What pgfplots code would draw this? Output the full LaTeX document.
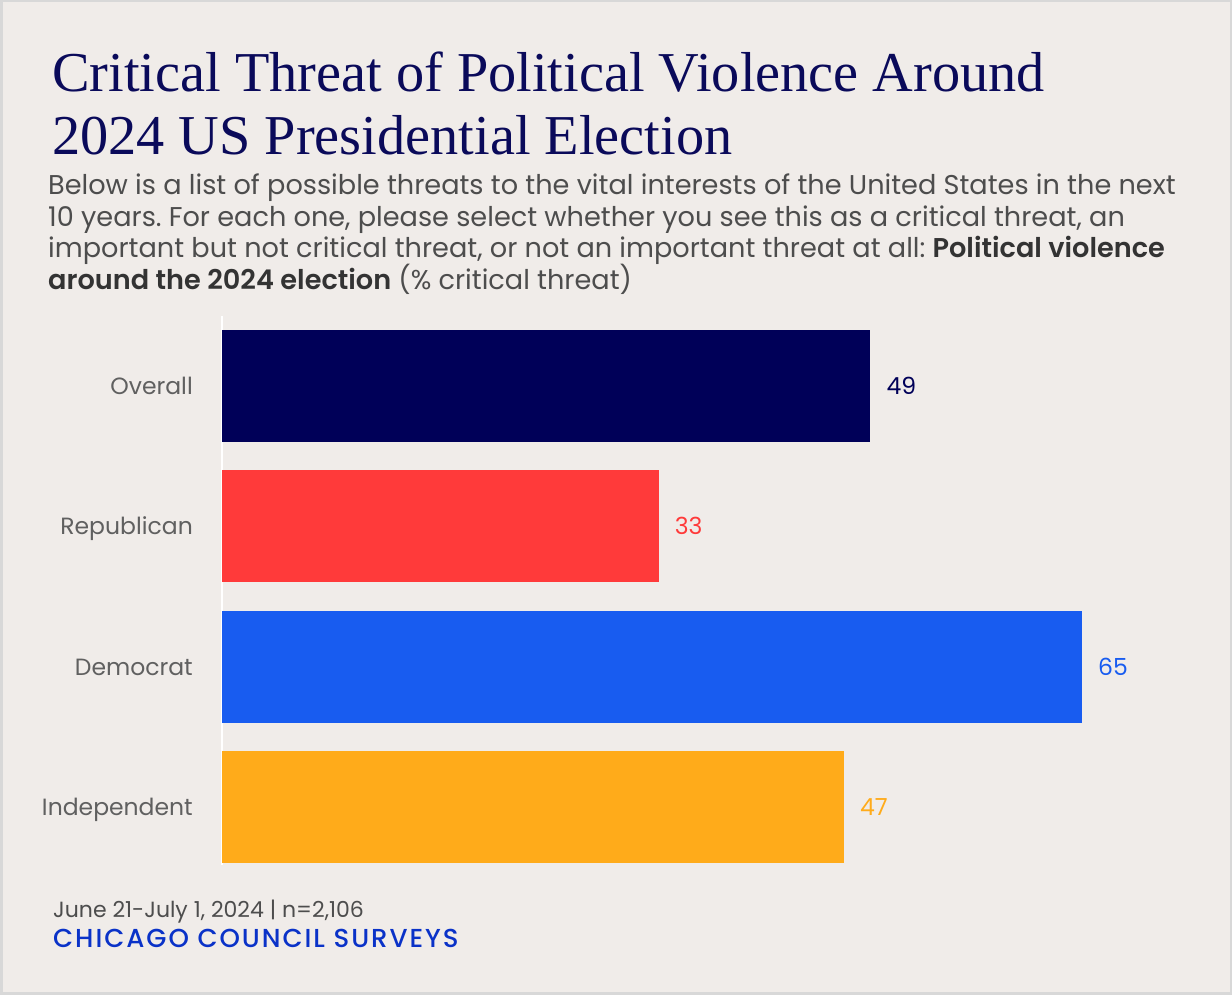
\documentclass[border=0pt]{standalone}
\usepackage{pgfplots}
\pgfplotsset{compat=1.18}
\usepackage{fontspec}
\newfontfamily\titlefont{Liberation Serif}
\newfontfamily\sansf[BoldFont={* SemiBold}]{Poppins}
\newfontfamily\footf[UprightFont={* Medium}, LetterSpace=7.5]{Poppins}
\definecolor{bg}{HTML}{F0ECE9}
\definecolor{frame}{HTML}{D8D8D8}
\definecolor{cnavy}{HTML}{000058}
\definecolor{cred}{HTML}{FF3A3A}
\definecolor{cblue}{HTML}{185CF0}
\definecolor{corange}{HTML}{FFAB1A}
\definecolor{ctitle}{HTML}{0A0A5A}
\definecolor{csub}{HTML}{4D4D4D}
\definecolor{cbold}{HTML}{333333}
\definecolor{clab}{HTML}{606060}
\definecolor{cfoot}{HTML}{0A32C8}
\frenchspacing
\begin{document}
\begin{tikzpicture}[x=1pt,y=1pt]
\useasboundingbox (0,0) rectangle (1232,995);
\fill[bg] (0,0) rectangle (1232,995);
\draw[frame, line width=2.5pt] (1.25,1.25) rectangle (1230.75,993.75);
% title
\node[anchor=base west, inner sep=0pt, text=ctitle, font=\titlefont\fontsize{56.3}{64}\selectfont] at (52,{995-92}) {Critical Threat of Political Violence Around};
\node[anchor=base west, inner sep=0pt, text=ctitle, font=\titlefont\fontsize{56.3}{64}\selectfont] at (52,{995-155}) {2024 US Presidential Election};
% subtitle
\begin{scope}[every node/.style={anchor=base west, inner sep=0pt, text=csub, font=\sansf\fontsize{27.15}{30}\selectfont}]
\node at (48,{995-195}) {Below is a list of possible threats to the vital interests of the United States in the next};
\node at (48,{995-227}) {10 years. For each one, please select whether you see this as a critical threat, an};
\node at (48,{995-258}) {important but not critical threat, or not an important threat at all: \textcolor{cbold}{\bfseries Political violence}};
\node at (48,{995-290}) {\textcolor{cbold}{\bfseries around the 2024 election} (\% critical threat)};
\end{scope}
% footer
\node[anchor=base west, inner sep=0pt, text=csub, font=\sansf\fontsize{22}{24}\selectfont] at (53,{995-918}) {June 21-July 1, 2024 | n=2,106};
\node[anchor=base west, inner sep=0pt, text=cfoot, font=\footf\fontsize{26}{28}\selectfont] at (53,{995-948}) {CHICAGO COUNCIL SURVEYS};
\begin{axis}[
  at={(222pt,130pt)}, anchor=south west,
  scale only axis, width=860pt, height=549pt,
  xmin=0, xmax=65, ymin=-0.414, ymax=3.5,
  xbar, bar width=112pt, bar shift=0pt,
  axis x line=none, axis y line=left,
  y axis line style={white, line width=2.5pt, -},
  major tick length=0pt,
  ytick={0,1,2,3},
  yticklabels={Independent,Democrat,Republican,Overall},
  yticklabel style={anchor=base east, inner sep=0pt, xshift=-29pt, yshift=-8.5pt, text=clab, font=\sansf\fontsize{23.5}{24}\selectfont},
  nodes near coords,
  /pgf/number format/assume math mode=true,
  nodes near coords style={anchor=base west, inner sep=0pt, xshift=16pt, yshift=-8.5pt, font=\sansf\fontsize{23.5}{24}\selectfont},
  clip=false,
]
\addplot[fill=cnavy, draw=none, every node near coord/.append style={text=cnavy}] coordinates {(49,3)};
\addplot[fill=cred, draw=none, every node near coord/.append style={text=cred}] coordinates {(33,2)};
\addplot[fill=cblue, draw=none, every node near coord/.append style={text=cblue}] coordinates {(65,1)};
\addplot[fill=corange, draw=none, every node near coord/.append style={text=corange}] coordinates {(47,0)};
\end{axis}
\end{tikzpicture}
\end{document}
